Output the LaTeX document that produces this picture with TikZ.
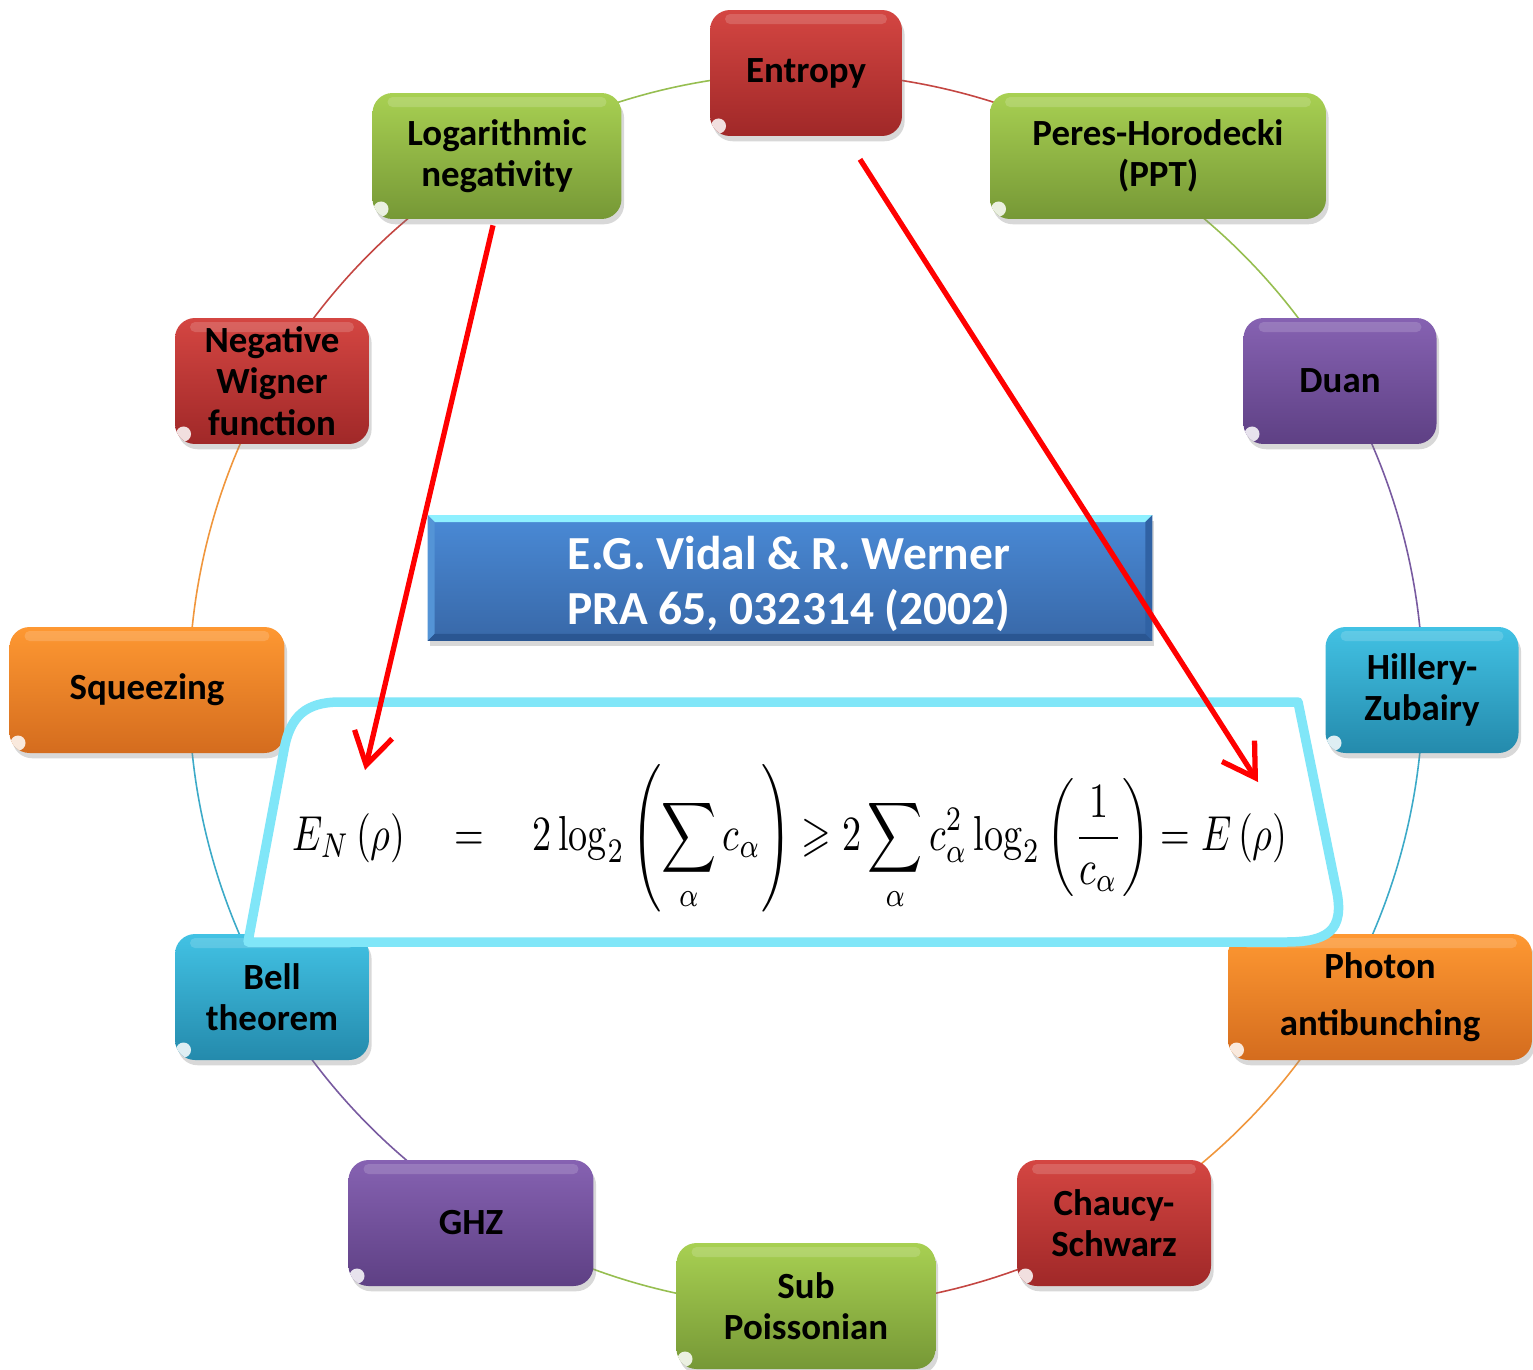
\documentclass[tikz,border=0pt]{standalone}
\usepackage[no-math]{fontspec}
\usepackage{amsmath,amssymb,graphicx}
\usetikzlibrary{shadows,arrows.meta,calc}
\newfontfamily\boxfont{Carlito}

% box colours: top / bottom of the vertical gradient
\definecolor{cRedT}{RGB}{212,70,66}
\definecolor{cRedB}{RGB}{160,40,40}
\definecolor{cGreenT}{RGB}{168,208,82}
\definecolor{cGreenB}{RGB}{118,152,54}
\definecolor{cPurpleT}{RGB}{134,98,178}
\definecolor{cPurpleB}{RGB}{94,64,132}
\definecolor{cTealT}{RGB}{66,194,228}
\definecolor{cTealB}{RGB}{36,138,172}
\definecolor{cOrangeT}{RGB}{254,152,50}
\definecolor{cOrangeB}{RGB}{212,108,30}
% ring colours
\definecolor{cRedL}{RGB}{196,70,66}
\definecolor{cGreenL}{RGB}{150,190,80}
\definecolor{cPurpleL}{RGB}{120,90,160}
\definecolor{cTealL}{RGB}{60,170,200}
\definecolor{cOrangeL}{RGB}{240,150,60}
% reference box and formula frame
\definecolor{refT}{RGB}{74,138,214}
\definecolor{refB}{RGB}{56,104,168}
\definecolor{refTop}{RGB}{142,240,255}
\definecolor{refLeft}{RGB}{84,148,214}
\definecolor{refRight}{RGB}{48,98,164}
\definecolor{refBot}{RGB}{42,86,146}
\definecolor{frameC}{RGB}{128,230,248}
\definecolor{arrowRed}{RGB}{255,0,0}

\tikzset{
  ibox/.style={rounded corners=0.4cm, minimum height=2.52cm, align=center,
    inner sep=2pt, draw=none,
    font=\boxfont\bfseries\fontsize{21}{23.5}\selectfont,
    top color=#1T, bottom color=#1B,
    drop shadow={shadow xshift=1.5pt, shadow yshift=-3pt, opacity=0.3},
    path picture={
      \fill[white, opacity=0.16, rounded corners=0.1cm]
        ([xshift=0.3cm,yshift=-0.08cm]path picture bounding box.north west)
        rectangle ([xshift=-0.3cm,yshift=-0.28cm]path picture bounding box.north east);
      \fill[white, opacity=0.85]
        ([xshift=0.17cm,yshift=0.2cm]path picture bounding box.south west) circle (0.15cm);
    }},
  ring/.style={line width=0.9pt, #1},
  refbox/.style={minimum width=14.48cm, minimum height=2.5cm,
    top color=refT, bottom color=refB, draw=none,
    drop shadow={shadow xshift=1pt, shadow yshift=-3pt, opacity=0.3}},
  reftxt/.style={text=white, align=center,
    font=\boxfont\bfseries\fontsize{27}{31}\selectfont},
  fbox/.style={draw=frameC, fill=white, line width=0.19cm, line join=round},
  redarrow/.style={draw=arrowRed, line width=3pt,
    -{Straight Barb[length=18pt,width=22pt]}},
}

\begin{document}
\begin{tikzpicture}[x=0.02cm, y=-0.02cm]
\useasboundingbox (0,0) rectangle (1533,1369);
\fill[white] (0,0) rectangle (1533,1369);

% ring through the twelve boxes
\coordinate (c) at (806,690);
\draw[ring=cGreenL]  (c) ++(240:617) arc[start angle=240, end angle=270, radius=617];
\draw[ring=cRedL]    (c) ++(-90:617) arc[start angle=-90, end angle=-60, radius=617];
\draw[ring=cGreenL]  (c) ++(-60:617) arc[start angle=-60, end angle=-30, radius=617];
\draw[ring=cPurpleL] (c) ++(-30:617) arc[start angle=-30, end angle=0, radius=617];
\draw[ring=cTealL]   (c) ++(0:617) arc[start angle=0, end angle=30, radius=617];
\draw[ring=cOrangeL] (c) ++(30:617) arc[start angle=30, end angle=60, radius=617];
\draw[ring=cRedL]    (c) ++(60:617) arc[start angle=60, end angle=90, radius=617];
\draw[ring=cGreenL]  (c) ++(90:617) arc[start angle=90, end angle=120, radius=617];
\draw[ring=cPurpleL] (c) ++(120:617) arc[start angle=120, end angle=150, radius=617];
\draw[ring=cTealL]   (c) ++(150:617) arc[start angle=150, end angle=180, radius=617];
\draw[ring=cOrangeL] (c) ++(180:617) arc[start angle=180, end angle=210, radius=617];
\draw[ring=cRedL]    (c) ++(210:617) arc[start angle=210, end angle=240, radius=617];

% the twelve criteria
\node[ibox=cRed,    minimum width=3.84cm] (entropy) at (806,73)   {Entropy};
\node[ibox=cGreen,  minimum width=4.98cm] (logneg)  at (497,156)  {Logarithmic\\negativity};
\node[ibox=cGreen,  minimum width=6.72cm] (peres)   at (1158,156) {Peres-Horodecki\\(PPT)};
\node[ibox=cRed,    minimum width=3.88cm] (wigner)  at (272,381)  {Negative\\Wigner\\function};
\node[ibox=cPurple, minimum width=3.86cm] (duan)    at (1340,381) {Duan};
\node[ibox=cOrange, minimum width=5.50cm] (squeeze) at (147,690)  {Squeezing};
\node[ibox=cTeal,   minimum width=3.86cm] (hillery) at (1422,690) {Hillery-\\Zubairy};
\node[ibox=cTeal,   minimum width=3.88cm] (bell)    at (272,997)  {Bell\\theorem};
\node[ibox=cOrange, minimum width=6.08cm] (photon)  at (1380,997) {Photon\\[9pt]antibunching};
\node[ibox=cPurple, minimum width=4.90cm] (ghz)     at (471,1223) {GHZ};
\node[ibox=cRed,    minimum width=3.88cm] (chaucy)  at (1114,1223) {Chaucy-\\Schwarz};
\node[ibox=cGreen,  minimum width=5.18cm] (subp)    at (806,1306) {Sub\\Poissonian};

% reference box with bevelled edges
\node[refbox] (ref) at (790,578) {};
\fill[refTop] (ref.north west) -- (ref.north east) -- ([shift={(-7,7)}]ref.north east) -- ([shift={(7,7)}]ref.north west) -- cycle;
\fill[refLeft] (ref.north west) -- ([shift={(7,7)}]ref.north west) -- ([shift={(7,-7)}]ref.south west) -- (ref.south west) -- cycle;
\fill[refRight] (ref.north east) -- ([shift={(-7,7)}]ref.north east) -- ([shift={(-7,-7)}]ref.south east) -- (ref.south east) -- cycle;
\fill[refBot] (ref.south west) -- (ref.south east) -- ([shift={(-7,-7)}]ref.south east) -- ([shift={(7,-7)}]ref.south west) -- cycle;
\node[reftxt] (reftext) at (789,584) {E.G. Vidal \& R. Werner\\PRA 65, 032314 (2002)};

% formula frame
\draw[fbox] (248,942) -- (284,750) .. controls (290,716) and (306,702) .. (340,702)
  -- (1298,702) -- (1336,888) .. controls (1346,932) and (1326,942) .. (1285,942) -- cycle;
\node (formula) at (790,838) {\resizebox*{19.9cm}{2.95cm}{$\displaystyle
  E_N\,(\rho)\quad=\quad 2\log_2\left(\sum_\alpha c_\alpha\right)
  \geqslant 2\sum_\alpha c_\alpha^2\log_2\left(\frac{1}{c_\alpha}\right)=E\,(\rho)$}};

% arrows into the formula
\coordinate (tipL) at (365,770);
\coordinate (tipR) at (1258,782);
\draw[redarrow] ([xshift=-0.08cm,yshift=-0.12cm]logneg.south) -- (tipL);
\draw[redarrow] ([xshift=1.08cm,yshift=-0.46cm]entropy.south) -- (tipR);
\end{tikzpicture}
\end{document}
